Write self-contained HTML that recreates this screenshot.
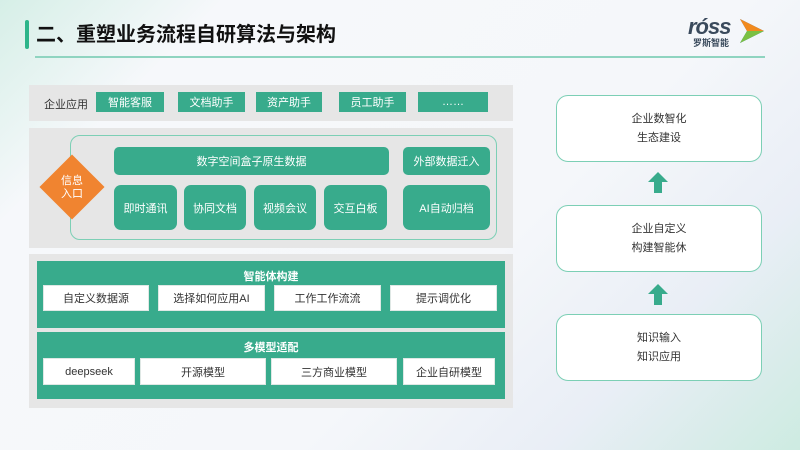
<!DOCTYPE html>
<html><head><meta charset="utf-8"><style>
*{margin:0;padding:0;box-sizing:border-box}
body{width:800px;height:450px;overflow:hidden;position:relative;font-family:"Liberation Sans","Noto Sans CJK SC",sans-serif;
background:linear-gradient(135deg,#d6efe7 0%,#f6f8fb 18%,#f5f7fa 60%,#e9eef6 80%,#cdebe1 100%);}
.a{position:absolute}
.g{position:absolute;background:#38ab8c;color:#fff;font-size:11px;display:flex;align-items:center;justify-content:center}
.w{position:absolute;background:#fff;color:#333;font-size:11px;display:flex;align-items:center;justify-content:center;border:1px solid #dfe8e5}
.p{position:absolute;background:#e6e6e6}
.r{position:absolute;left:556px;width:206px;height:67px;background:#fff;border:1.5px solid #7ccfb5;border-radius:12px;font-size:11px;color:#333;text-align:center;line-height:19px;display:flex;flex-direction:column;justify-content:center}
.ar{position:absolute;left:648px;width:20px;height:21px}
</style></head><body>
<div class="a" style="left:25px;top:20px;width:4px;height:29px;background:#2db58a;border-radius:2px"></div>
<div class="a" style="left:36px;top:20px;font-size:20px;font-weight:bold;color:#111;line-height:30px">二、重塑业务流程自研算法与架构</div>
<div class="a" style="left:35px;top:56px;width:730px;height:2px;background:#8fd4c0"></div>
<div class="a" style="left:688px;top:14px;font-size:22px;font-style:italic;color:#3a4a5c;letter-spacing:-1px;font-weight:bold">róss</div>
<div class="a" style="left:693px;top:36px;font-size:9px;color:#3a4a5c;font-weight:bold">罗斯智能</div>
<svg class="a" style="left:738px;top:17px" width="28" height="28"><polygon points="2,2 26,14 2,26 9,14" fill="#2a6fb8"/><polygon points="2,2 26,14 9,14" fill="#f28a1e"/><polygon points="9,14 26,14 2,26" fill="#7bc043"/></svg>

<div class="p" style="left:29px;top:85px;width:484px;height:36px"></div>
<div class="a" style="left:44px;top:96px;font-size:11px;color:#333">企业应用</div>
<div class="g" style="left:96px;top:92px;width:68px;height:20px">智能客服</div>
<div class="g" style="left:178px;top:92px;width:67px;height:20px">文档助手</div>
<div class="g" style="left:256px;top:92px;width:66px;height:20px">资产助手</div>
<div class="g" style="left:339px;top:92px;width:67px;height:20px">员工助手</div>
<div class="g" style="left:418px;top:92px;width:70px;height:20px">……</div>

<div class="p" style="left:29px;top:128px;width:484px;height:120px"></div>
<div class="a" style="left:70px;top:135px;width:427px;height:105px;border:1.5px solid #7ccfb5;border-radius:10px"></div>
<div class="g" style="left:114px;top:147px;width:275px;height:28px;border-radius:5px">数字空间盒子原生数据</div>
<div class="g" style="left:403px;top:147px;width:87px;height:28px;border-radius:5px">外部数据迁入</div>
<div class="g" style="left:114px;top:185px;width:63px;height:45px;border-radius:7px">即时通讯</div>
<div class="g" style="left:184px;top:185px;width:62px;height:45px;border-radius:7px">协同文档</div>
<div class="g" style="left:254px;top:185px;width:62px;height:45px;border-radius:7px">视频会议</div>
<div class="g" style="left:324px;top:185px;width:63px;height:45px;border-radius:7px">交互白板</div>
<div class="g" style="left:403px;top:185px;width:87px;height:45px;border-radius:7px">AI自动归档</div>
<div class="a" style="left:49px;top:164px;width:46px;height:46px;background:#f08430;transform:rotate(45deg)"></div>
<div class="a" style="left:52px;top:175px;width:40px;text-align:center;color:#fff;font-size:11px;line-height:13px">信息<br>入口</div>

<div class="p" style="left:29px;top:254px;width:484px;height:154px"></div>
<div class="g" style="left:37px;top:261px;width:468px;height:67px;align-items:flex-start;padding-top:7px;font-weight:bold">智能体构建</div>
<div class="w" style="left:43px;top:285px;width:106px;height:26px">自定义数据源</div>
<div class="w" style="left:158px;top:285px;width:107px;height:26px">选择如何应用AI</div>
<div class="w" style="left:274px;top:285px;width:107px;height:26px">工作工作流流</div>
<div class="w" style="left:390px;top:285px;width:107px;height:26px">提示调优化</div>
<div class="g" style="left:37px;top:332px;width:468px;height:67px;align-items:flex-start;padding-top:7px;font-weight:bold">多模型适配</div>
<div class="w" style="left:43px;top:358px;width:92px;height:27px">deepseek</div>
<div class="w" style="left:140px;top:358px;width:126px;height:27px">开源模型</div>
<div class="w" style="left:271px;top:358px;width:126px;height:27px">三方商业模型</div>
<div class="w" style="left:403px;top:358px;width:92px;height:27px">企业自研模型</div>

<div class="r" style="top:95px">企业数智化<br>生态建设</div>
<div class="r" style="top:205px">企业自定义<br>构建智能休</div>
<div class="r" style="top:314px">知识输入<br>知识应用</div>
<svg class="ar" style="top:172px" viewBox="0 0 20 21"><polygon points="10,0 20,10 14,10 14,21 6,21 6,10 0,10" fill="#38ab8c"/></svg>
<svg class="ar" style="top:284px" viewBox="0 0 20 21"><polygon points="10,0 20,10 14,10 14,21 6,21 6,10 0,10" fill="#38ab8c"/></svg>
</body></html>
